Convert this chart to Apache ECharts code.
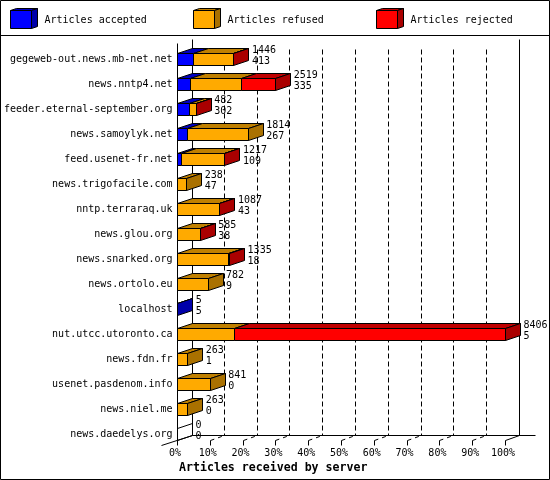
<!DOCTYPE html>
<html>
<head>
<meta charset="utf-8">
<style>html,body{margin:0;padding:0;background:#fff}#c{width:550px;height:480px}</style>
<script src="https://cdn.jsdelivr.net/npm/echarts@6/dist/echarts.min.js"></script>
</head>
<body>
<div id="c"></div>
<script>
const servers = ["gegeweb-out.news.mb-net.net","news.nntp4.net","feeder.eternal-september.org","news.samoylyk.net","feed.usenet-fr.net","news.trigofacile.com","nntp.terraraq.uk","news.glou.org","news.snarked.org","news.ortolo.eu","localhost","nut.utcc.utoronto.ca","news.fdn.fr","usenet.pasdenom.info","news.niel.me","news.daedelys.org"];
const accepted = [413,335,302,267,109,47,43,38,18,9,5,5,1,0,0,0];
const refused  = [1025,1297,175,1547,1100,191,1035,540,1297,773,0,1464,262,841,263,0];
const rejected = [8,887,5,0,8,0,9,7,20,0,0,6937,0,0,0,0];
const totals   = [1446,2519,482,1814,1217,238,1087,585,1335,782,5,8406,263,841,263,0];
const xTicks = [0,10,20,30,40,50,60,70,80,90,100];
const seriesNames = ["Articles accepted","Articles refused","Articles rejected"];
const frontColors = ["#0000ff","#ffaa00","#ff0000"];
const topColors   = ["#0000c0","#c08000","#c00000"];
const sideColors  = ["#0000aa","#aa7100","#aa0000"];
const axisTitle = "Articles received by server";

const MONO = '"DejaVu Sans Mono", monospace';
const DX = 15, DY = 5, HALF = 6, MIN_VISIBLE_PX = 3;
const maxTotal = Math.max(...totals);
const stacks = [accepted, refused, rejected];
const crisp = v => Math.floor(v) + 0.5;
const pct = v => v / maxTotal * 100;
const poly = (pts, fill, extra) => ({
  type: 'polygon', shape: {points: pts},
  style: Object.assign({fill: fill, stroke: '#000', lineWidth: 1}, extra || {})
});
const line = (x1, y1, x2, y2, dash) => ({
  type: 'line', shape: {x1, y1, x2, y2},
  style: {stroke: '#000', lineWidth: 1, lineDash: dash || null, fill: null}
});

function segRender(si) {
  return function (params, api) {
    const i = api.value(0);
    const vals = stacks.map(s => s[i]);
    const v = vals[si];
    const start = vals.slice(0, si).reduce((a, b) => a + b, 0);
    const xAxis0 = crisp(api.coord([0, i])[0]);
    let x0 = crisp(api.coord([pct(start), i])[0]);
    const x1 = crisp(api.coord([pct(start + v), i])[0]);
    const yc = Math.floor(api.coord([0, i])[1]);
    const yT = yc - HALF + 0.5, yB = yc + HALF + 0.5;
    const kids = [];
    let last = -1;
    vals.forEach((d, k) => { if (d > 0) last = k; });
    // a sliver too thin to see at the foot of the bar is swallowed by the next segment
    if (x0 - xAxis0 < MIN_VISIBLE_PX) x0 = xAxis0;
    const hidden = si < last && x1 - xAxis0 < MIN_VISIBLE_PX;
    if (v > 0) {
      if (!hidden) {
        kids.push(poly([[x0, yT], [x0 + DX, yT - DY], [x1 + DX, yT - DY], [x1, yT]], topColors[si]));
        kids.push(poly([[x0, yT], [x1, yT], [x1, yB], [x0, yB]], frontColors[si]));
      }
      if (si === last) {
        kids.push(poly([[x1, yT], [x1 + DX, yT - DY], [x1 + DX, yB - DY], [x1, yB]], sideColors[si]));
      }
    } else if (si === 0 && last === -1) {
      kids.push(poly([[x1, yT], [x1 + DX, yT - DY], [x1 + DX, yB - DY], [x1, yB]], 'none'));
    }
    return {type: 'group', children: kids};
  };
}

function frameRender(params, api) {
  const y0 = api.coord([0, 0])[1];
  const yLast = api.coord([0, servers.length - 1])[1];
  const top = Math.floor(y0) - 19.5;
  const base = Math.floor(yLast) + HALF + 0.5;
  const floor = base - DY;
  const kids = [];
  const xs = xTicks.map(t => crisp(api.coord([t, 0])[0]));
  kids.push(line(xs[0], top + 4, xs[0], base + 5));
  kids.push(line(xs[0] + DX, top, xs[0] + DX, floor));
  kids.push(line(xs[10] + DX - 1, top, xs[10] + DX - 1, floor));
  kids.push(line(xs[0] + DX, floor, xs[10] + 30, floor));
  kids.push(line(xs[0] - 16, base + 5, xs[0] + DX, floor));
  xs.forEach((x, k) => {
    if (k > 0) kids.push(line(x, base, x, base + 5));
    if (k > 0 && k < 10) {
      kids.push(line(x + 14, top + 10, x + 14, floor, [5, 3]));
      kids.push(line(x, base, x + 14, floor, [4, 4]));
    }
  });
  kids.push(line(xs[10], base, xs[10] + DX - 1, floor));
  return {type: 'group', children: kids};
}

function labelRender(params, api) {
  const i = api.value(0);
  const x = api.coord([pct(totals[i]), i])[0] + 18;
  const yc = Math.floor(api.coord([0, i])[1]);
  const txt = (s, y) => ({type: 'text', style: {text: String(s), x: x, y: y, font: '10px ' + MONO, fill: '#000', verticalAlign: 'middle', align: 'left'}});
  return {type: 'group', children: [txt(totals[i], yc - 8.5), txt(accepted[i], yc + 2.5)]};
}

const idx = servers.map((_, i) => [i]);
const legendBoxes = [10.5, 193.5, 376.5];
const legendText = [44.5, 227.5, 410.5];
const graphicEls = [
  {type: 'rect', shape: {x: 0.5, y: 0.5, width: 549, height: 479}, style: {fill: 'none', stroke: '#000', lineWidth: 1}, silent: true},
  {type: 'line', shape: {x1: 0, y1: 35.5, x2: 550, y2: 35.5}, style: {stroke: '#000', lineWidth: 1}, silent: true}
];
seriesNames.forEach((n, k) => {
  const x = legendBoxes[k], w = 21, t = 10.5, b = 28.5, dx = 6, dy = 2;
  graphicEls.push({type: 'polygon', shape: {points: [[x, t], [x + dx, t - dy], [x + w + dx, t - dy], [x + w, t]]}, style: {fill: topColors[k], stroke: '#000'}});
  graphicEls.push({type: 'polygon', shape: {points: [[x + w, t], [x + w + dx, t - dy], [x + w + dx, b - dy], [x + w, b]]}, style: {fill: sideColors[k], stroke: '#000'}});
  graphicEls.push({type: 'rect', shape: {x: x, y: t, width: w, height: b - t}, style: {fill: frontColors[k], stroke: '#000'}});
  graphicEls.push({type: 'text', x: legendText[k], y: 20.5, style: {text: n, font: '10px ' + MONO, fill: '#000', verticalAlign: 'middle'}});
});

const chart = echarts.init(document.getElementById('c'), null, {renderer: 'canvas'});
chart.setOption({
  animation: false,
  backgroundColor: '#fff',
  title: {text: axisTitle, left: 179, top: 462, padding: 0,
    textStyle: {fontFamily: MONO, fontSize: 11.6, fontWeight: 'bold', color: '#000'}},
  grid: {left: 177.5, top: 47, width: 328, height: 400, containLabel: false},
  xAxis: {type: 'value', min: 0, max: 100, interval: 10,
    axisLine: {show: false}, axisTick: {show: false}, splitLine: {show: false},
    axisLabel: {margin: 1, padding: [0, 5, 0, 0], formatter: '{value}%', color: '#000', fontFamily: MONO, fontSize: 10, hideOverlap: false, showMinLabel: true, showMaxLabel: true}},
  yAxis: {type: 'category', inverse: true, data: servers,
    axisLine: {show: false}, axisTick: {show: false}, splitLine: {show: false},
    axisLabel: {margin: 5, padding: [4, 0, 0, 0], interval: 0, color: '#000', fontFamily: MONO, fontSize: 10}},
  graphic: graphicEls,
  series: [
    {type: 'custom', name: 'frame', silent: true, z: 1, clip: false, renderItem: frameRender, data: [[0]], encode: {y: 0}},
    ...seriesNames.map((n, k) => ({type: 'custom', name: n, silent: true, z: 2 + k, clip: false, renderItem: segRender(k), data: idx, encode: {y: 0}})),
    {type: 'custom', name: 'values', silent: true, z: 6, clip: false, renderItem: labelRender, data: idx, encode: {y: 0}}
  ]
});
</script>
</body>
</html>
